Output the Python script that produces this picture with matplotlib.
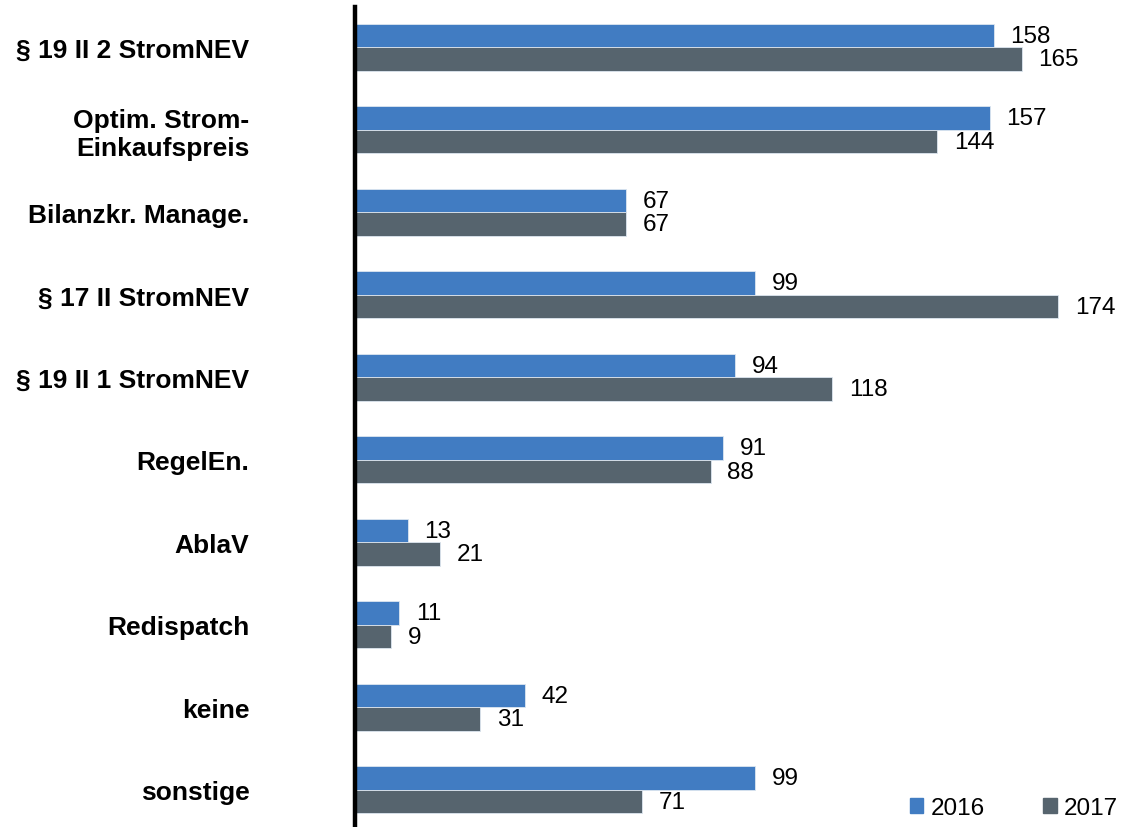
import numpy as np
import matplotlib.pyplot as plt
from matplotlib.patches import Patch

plt.rcParams['font.family'] = ['Liberation Sans', 'DejaVu Sans']

# categories top to bottom
categories = ['§ 19 II 2 StromNEV', 'Optim. Strom-\nEinkaufspreis', 'Bilanzkr. Manage.',
              '§ 17 II StromNEV', '§ 19 II 1 StromNEV', 'RegelEn.', 'AblaV',
              'Redispatch', 'keine', 'sonstige']
values_2016 = [158, 157, 67, 99, 94, 91, 13, 11, 42, 99]
values_2017 = [165, 144, 67, 174, 118, 88, 21, 9, 31, 71]
series_labels = ['2016', '2017']

blue = '#417CC2'
grey = '#56646E'

fig = plt.figure(figsize=(11.23, 8.28), dpi=100)
ax = fig.add_axes([355 / 1123, 0, 768 / 1123, 820 / 828])

y = np.arange(len(categories))
h = 0.285
ax.barh(y - h / 2, values_2016, height=h, color=blue, edgecolor='#dde6f0', linewidth=0.6)
ax.barh(y + h / 2, values_2017, height=h, color=grey, edgecolor='#dde6f0', linewidth=0.6)

# value labels, left aligned just past the bar end
for yi, v in zip(y - h / 2, values_2016):
    ax.annotate(str(v), (v, yi), xytext=(12, 0), textcoords='offset points',
                ha='left', va='center', fontsize=17.5)
for yi, v in zip(y + h / 2, values_2017):
    ax.annotate(str(v), (v, yi), xytext=(12, 0), textcoords='offset points',
                ha='left', va='center', fontsize=17.5)

ax.set_xlim(0, 190)
ax.set_ylim(9.45, -0.49)
ax.set_yticks(y)
ax.set_yticklabels(categories, fontsize=19, fontweight='bold', linespacing=1.2)
ax.tick_params(axis='y', length=0, pad=76)
ax.set_xticks([])
for s in ['top', 'right', 'bottom']:
    ax.spines[s].set_visible(False)
ax.spines['left'].set_linewidth(3.2)
ax.spines['left'].set_color('black')

handles = [Patch(color=blue), Patch(color=grey)]
fig.legend(handles, series_labels, loc='center right',
           bbox_to_anchor=(1118 / 1123, 19 / 828),
           ncol=2, frameon=False, fontsize=17.5, handlelength=0.55, handleheight=0.55,
           handletextpad=0.3, columnspacing=2.4, borderaxespad=0, borderpad=0)

fig.savefig('out.png', dpi=100)
